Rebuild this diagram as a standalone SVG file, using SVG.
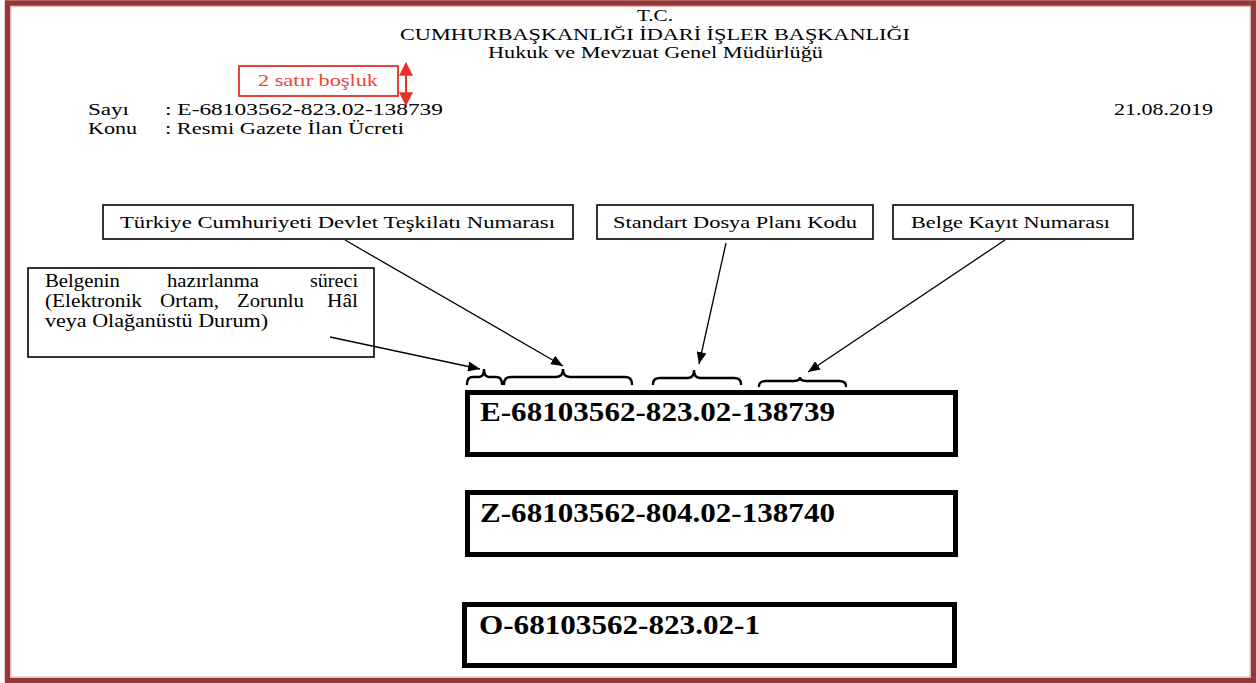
<svg xmlns="http://www.w3.org/2000/svg" width="1256" height="683" viewBox="0 0 1256 683">
<style>
.serif{font-family:"Liberation Serif","Times New Roman",serif;fill:#000}
.hdr{font-size:17px}
.meta{font-size:17px}
.lbl{font-size:16.5px}
.note{font-size:18px}
.code{font-size:27px;font-weight:bold}
.box{fill:#fff;stroke:#000;stroke-width:1.6}
.cbox{fill:#fff;stroke:#000;stroke-width:5}
.conn{stroke:#000;stroke-width:1.3;fill:none}
.brace{stroke:#000;stroke-width:2.4;fill:none;stroke-linecap:round}
.red{fill:#e8453a;font-family:"Liberation Serif","Times New Roman",serif;font-size:16px}
</style>
<defs>
<marker id="ah" viewBox="0 0 12 10" refX="12" refY="5" markerWidth="12" markerHeight="10" markerUnits="userSpaceOnUse" orient="auto">
<path d="M0,0 L12,5 L0,10 Z" fill="#000"/>
</marker>
<marker id="rh" viewBox="0 0 12 12" refX="11" refY="6" markerWidth="14" markerHeight="14" markerUnits="userSpaceOnUse" orient="auto">
<path d="M0,0 L12,6 L0,12 Z" fill="#e8302a"/>
</marker>
</defs>
<rect x="0" y="0" width="1256" height="683" fill="#fff"/>
<rect x="7.5" y="3" width="1246" height="677.5" fill="none" stroke="#953735" stroke-width="5.5"/>
<rect x="11" y="6.5" width="1239" height="670.5" fill="none" stroke="#e3b3b0" stroke-width="1"/>

<g id="header">
<text class="serif hdr" x="655" y="21" text-anchor="middle" textLength="36" lengthAdjust="spacingAndGlyphs">T.C.</text>
<text class="serif hdr" x="400" y="40" textLength="510" lengthAdjust="spacingAndGlyphs">CUMHURBAŞKANLIĞI İDARİ İŞLER BAŞKANLIĞI</text>
<text class="serif hdr" x="488" y="58" textLength="335" lengthAdjust="spacingAndGlyphs">Hukuk ve Mevzuat Genel Müdürlüğü</text>
</g>

<g id="spacing-note">
<rect x="239" y="66" width="159" height="30" fill="#fff" stroke="#e8453a" stroke-width="2"/>
<text class="red" x="258" y="86" textLength="120" lengthAdjust="spacingAndGlyphs">2 satır boşluk</text>
<line x1="406" y1="80" x2="406" y2="63" stroke="#e8302a" stroke-width="2" marker-end="url(#rh)"/>
<line x1="406" y1="80" x2="406" y2="105" stroke="#e8302a" stroke-width="2" marker-end="url(#rh)"/>
</g>

<g id="meta">
<text class="serif meta" x="88" y="115" textLength="41" lengthAdjust="spacingAndGlyphs">Sayı</text>
<text class="serif meta" x="165" y="115" textLength="278" lengthAdjust="spacingAndGlyphs">: E-68103562-823.02-138739</text>
<text class="serif meta" x="88" y="134" textLength="49" lengthAdjust="spacingAndGlyphs">Konu</text>
<text class="serif meta" x="165" y="134" textLength="239" lengthAdjust="spacingAndGlyphs">: Resmi Gazete İlan Ücreti</text>
<text class="serif meta" x="1114" y="115" textLength="99" lengthAdjust="spacingAndGlyphs">21.08.2019</text>
</g>

<g id="node-teskilat">
<rect class="box" x="103" y="205" width="470" height="34"/>
<text class="serif lbl" x="120" y="228" textLength="435" lengthAdjust="spacingAndGlyphs">Türkiye Cumhuriyeti Devlet Teşkilatı Numarası</text>
</g>
<g id="node-sdp">
<rect class="box" x="597" y="205" width="276" height="34"/>
<text class="serif lbl" x="613" y="228" textLength="244" lengthAdjust="spacingAndGlyphs">Standart Dosya Planı Kodu</text>
</g>
<g id="node-kayit">
<rect class="box" x="893" y="205" width="240" height="34"/>
<text class="serif lbl" x="911" y="228" textLength="199" lengthAdjust="spacingAndGlyphs">Belge Kayıt Numarası</text>
</g>
<g id="node-surec">
<rect class="box" x="28" y="268" width="346" height="89"/>
<text class="serif note" x="45" y="287" textLength="75" lengthAdjust="spacingAndGlyphs">Belgenin</text>
<text class="serif note" x="167" y="287" textLength="92" lengthAdjust="spacingAndGlyphs">hazırlanma</text>
<text class="serif note" x="310" y="287" textLength="48" lengthAdjust="spacingAndGlyphs">süreci</text>
<text class="serif note" x="45" y="307" textLength="97" lengthAdjust="spacingAndGlyphs">(Elektronik</text>
<text class="serif note" x="160" y="307" textLength="59" lengthAdjust="spacingAndGlyphs">Ortam,</text>
<text class="serif note" x="237" y="307" textLength="67" lengthAdjust="spacingAndGlyphs">Zorunlu</text>
<text class="serif note" x="327" y="307" textLength="31" lengthAdjust="spacingAndGlyphs">Hâl</text>
<text class="serif note" x="45" y="327" textLength="223" lengthAdjust="spacingAndGlyphs">veya Olağanüstü Durum)</text>
</g>

<g id="braces">
<path class="brace" d="M467,384 Q467,377 473,377 L479,377 Q484,377 484,369 Q484,377 489,377 L496,377 Q502,377 502,384"/>
<path class="brace" d="M504,384 Q504,377 511,377 L556,377 Q563,377 563,369 Q563,377 570,377 L625,377 Q632,377 632,384"/>
<path class="brace" d="M653,384 Q653,378 660,378 L688,378 Q694,378 694,370 Q694,378 700,378 L734,378 Q741,378 741,384"/>
<path class="brace" d="M759,386 Q759,381 766,381 L794,381 Q800,381 800,377 Q800,381 806,381 L839,381 Q846,381 846,386"/>
</g>

<g id="connectors">
<line class="conn" x1="330" y1="337" x2="480" y2="369" marker-end="url(#ah)"/>
<line class="conn" x1="345" y1="240" x2="563" y2="366" marker-end="url(#ah)"/>
<line class="conn" x1="726" y1="243" x2="699" y2="364" marker-end="url(#ah)"/>
<line class="conn" x1="1005" y1="240" x2="808" y2="372" marker-end="url(#ah)"/>
</g>

<g id="node-code-e">
<rect class="cbox" x="467.5" y="392.5" width="488" height="62"/>
<text class="serif code" x="480" y="421" textLength="355" lengthAdjust="spacingAndGlyphs">E-68103562-823.02-138739</text>
</g>
<g id="node-code-z">
<rect class="cbox" x="467.5" y="492.5" width="488" height="62"/>
<text class="serif code" x="480" y="522" textLength="355" lengthAdjust="spacingAndGlyphs">Z-68103562-804.02-138740</text>
</g>
<g id="node-code-o">
<rect class="cbox" x="464.5" y="604.5" width="490" height="61"/>
<text class="serif code" x="479" y="634" textLength="281" lengthAdjust="spacingAndGlyphs">O-68103562-823.02-1</text>
</g>
</svg>
